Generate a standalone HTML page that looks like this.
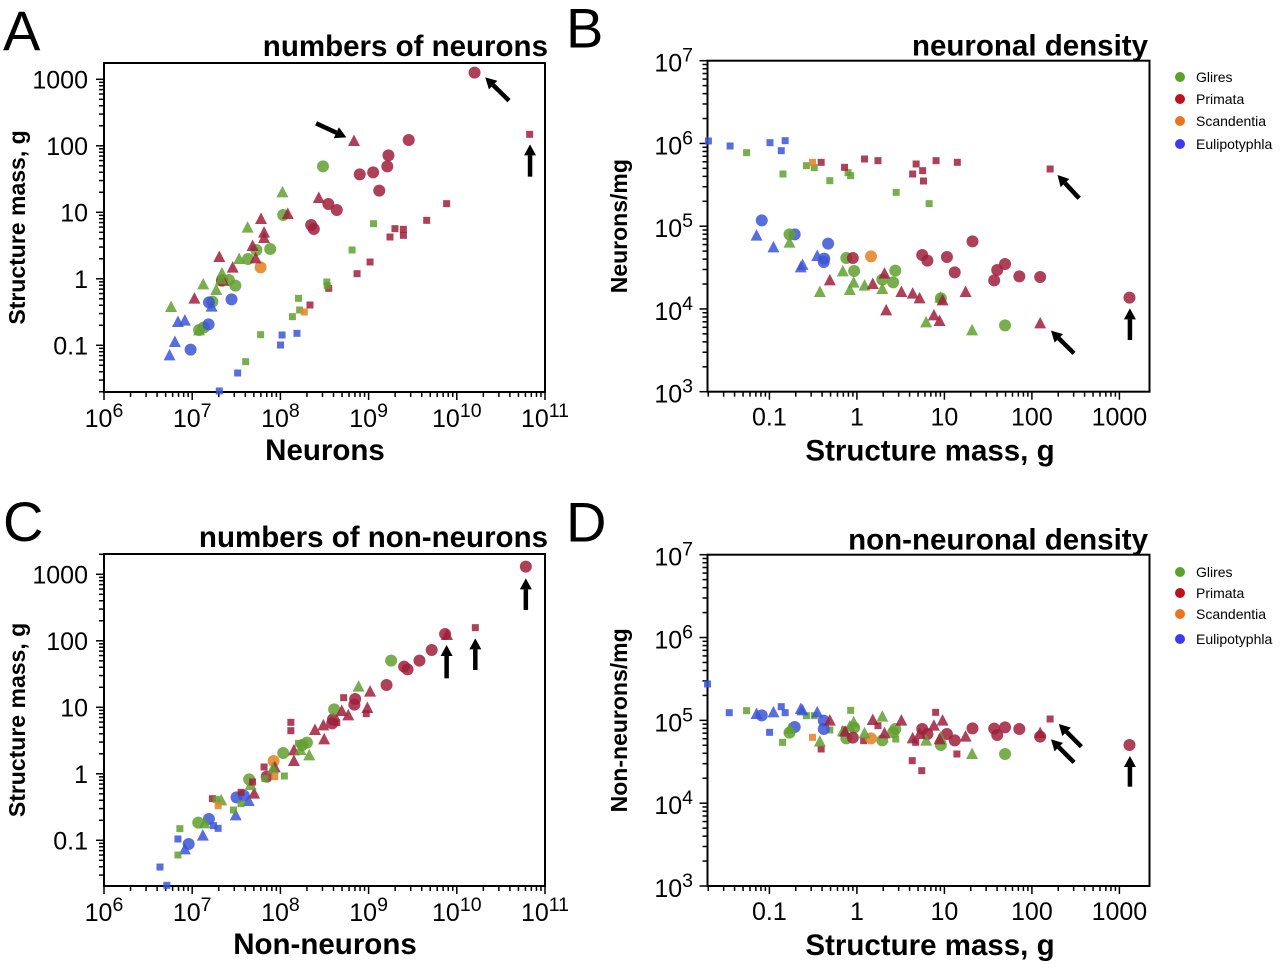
<!DOCTYPE html>
<html><head><meta charset="utf-8"><style>
body{margin:0;background:#fff;width:1280px;height:964px;overflow:hidden}
svg{display:block}
text{font-family:"Liberation Sans",Arial,sans-serif}
</style></head><body>
<svg id="s" width="1280" height="964" xmlns="http://www.w3.org/2000/svg"></svg>
<script>
const S=document.getElementById('s');const NS='http://www.w3.org/2000/svg';
function el(t,a,txt){const e=document.createElementNS(NS,t);for(const k in a)e.setAttribute(k,a[k]);if(txt!==undefined)e.textContent=txt;S.appendChild(e);return e;}
const COL={g:'rgba(98,160,48,0.85)',r:'rgba(160,30,60,0.85)',o:'rgba(228,135,45,0.9)',b:'rgba(60,85,215,0.85)'};
function pt(x,y,sh,c){
 if(sh=='c')el('circle',{cx:x,cy:y,r:6,fill:COL[c]});
 else if(sh=='s')el('rect',{x:x-3.5,y:y-3.5,width:7,height:7,fill:COL[c]});
 else el('polygon',{points:`${x},${y-6.5} ${x-6},${y+5} ${x+6},${y+5}`,fill:COL[c]});
}
function arrow(x1,y1,x2,y2){
 const dx=x2-x1,dy=y2-y1,L=Math.hypot(dx,dy),ux=dx/L,uy=dy/L,px=-uy,py=ux,h=11,w=6;
 const bx=x2-ux*h,by=y2-uy*h;
 el('line',{x1:x1,y1:y1,x2:bx,y2:by,stroke:'#000','stroke-width':4.5});
 el('polygon',{points:`${x2},${y2} ${bx+px*w},${by+py*w} ${bx-px*w},${by-py*w}`,fill:'#000'});
}
function text(x,y,s,sz,anc,bold){return el('text',{x:x,y:y,'font-size':sz,'text-anchor':anc||'start','font-weight':bold?'bold':'normal',fill:'#000'},s);}
function pow(x,y,b,e,sz,anc){const t=el('text',{x:x,y:y,'font-size':sz,'text-anchor':anc||'middle',fill:'#000'});
 const a=document.createElementNS(NS,'tspan');a.textContent=b;t.appendChild(a);
 const c=document.createElementNS(NS,'tspan');c.setAttribute('dy',-10);c.setAttribute('font-size',sz*0.78);c.textContent=e;t.appendChild(c);}
function box(l,t,r,b){el('rect',{x:l,y:t,width:r-l,height:b-t,fill:'none',stroke:'#000','stroke-width':2});}
function xticks(x0,dec,from,to,yb){for(let d=from;d<to;d++){for(let m=1;m<10;m++){const x=x0+(d-from)*dec+Math.log10(m)*dec;
 el('line',{x1:x,y1:yb,x2:x,y2:yb+(m==1?8:5),stroke:'#000','stroke-width':1.5});}}
 const x=x0+(to-from)*dec;el('line',{x1:x,y1:yb,x2:x,y2:yb+8,stroke:'#000','stroke-width':1.5});}
function yticks(xl,y0,dec,n,top,bot){for(let d=-1;d<n;d++){for(let m=1;m<10;m++){const y=y0-d*dec-Math.log10(m)*dec;
 if(y<top-0.5||y>bot+0.5)continue;el('line',{x1:xl,y1:y,x2:xl-(m==1?8:5),y2:y,stroke:'#000','stroke-width':1.5});}}}
function panelAC(top,bot,y1000,off,title,xlab,pts,arrs,letter){
 box(104,top,545,bot);
 xticks(104,88.2,6,11,bot);
 yticks(104,y1000+4*66.5,66.5,6,top,bot);
 ['0.1','1','10','100','1000'].forEach((s,i)=>text(88,y1000+(4-i)*66.5+9,s,25,'end'));
 for(let e=6;e<=11;e++)pow(104+(e-6)*88.2,bot+35,'10',e,25);
 text(325,bot+68,xlab,29.5,'middle',true);
 el('text',{x:25,y:(top+bot)/2,'font-size':23,'font-weight':'bold','text-anchor':'middle',transform:`rotate(-90 25 ${(top+bot)/2})`},'Structure mass, g');
 text(548,top-7,title,29.5,'end',true);
 text(3,top-13,letter,56,'start');
 pts.forEach(p=>pt(p[0]/2.613,p[1]/3+off,p[2],p[3]));
 arrs.forEach(a=>arrow(a[0]/2.613,a[1]/3+off,a[2]/2.613,a[3]/3+off));
}
function panelBD(top,bot,off,title,ylab,pts,arrs,letter,legy){
 box(707.5,top,1149.5,bot);
 const x0=681.9,dec=87.5;
 for(let d=0;d<5;d++)for(let m=1;m<10;m++){const x=x0+d*dec+Math.log10(m)*dec;if(x<707)continue;el('line',{x1:x,y1:bot,x2:x,y2:bot+(m==1?8:5),stroke:'#000','stroke-width':1.5});}
 el('line',{x1:x0+5*dec,y1:bot,x2:x0+5*dec,y2:bot+8,stroke:'#000','stroke-width':1.5});
 ['0.1','1','10','100','1000'].forEach((s,i)=>text(x0+(i+1)*dec,bot+34,s,25,'middle'));
 const d2=(bot-top)/4;
 for(let d=0;d<4;d++)for(let m=1;m<10;m++){const y=bot-d*d2-Math.log10(m)*d2;el('line',{x1:707.5,y1:y,x2:707.5-(m==1?8:5),y2:y,stroke:'#000','stroke-width':1.5});}
 el('line',{x1:707.5,y1:top,x2:699.5,y2:top,stroke:'#000','stroke-width':1.5});
 for(let e=3;e<=7;e++)pow(693,bot-(e-3)*d2+11,'10',e,25,'end');
 text(930,bot+69,'Structure mass, g',29.5,'middle',true);
 el('text',{x:627,y:(top+bot)/2,'font-size':23,'font-weight':'bold','text-anchor':'middle',transform:`rotate(-90 627 ${(top+bot)/2})`},ylab);
 text(1148,top-5,title,29.5,'end',true);
 text(566,top-13,letter,56,'start');
 const lg=[['Glires','#5aa02c'],['Primata','#c0101e'],['Scandentia','#e8761e'],['Eulipotyphla','#3a3af0']];
 lg.forEach((l,i)=>{el('circle',{cx:1180,cy:legy[i],r:5,fill:l[1]});text(1196,legy[i]+5,l[0],14,'start');});
 pts.forEach(p=>pt(p[0]/2.306+600,p[1]/3+off,p[2],p[3]));
 arrs.forEach(a=>arrow(a[0]/2.306+600,a[1]/3+off,a[2]/2.306+600,a[3]/3+off));
}
function mk(list,sh,c){return list.map(p=>[p[0],p[1],sh,c]);}
const A=[].concat(
mk([[1068,300],[1015,346],[1012,379],[975,397],[940,403],[991,452],[858,492],[880,510],[813,555],[820,567],[580,722],[1240,98]],'c','r'),
mk([[844,379],[740,525],[706,627],[670,630],[648,657],[598,720],[615,737],[555,785],[533,862],[520,870]],'c','g'),
mk([[681,682]],'c','o'),
mk([[546,787],[605,778],[545,853],[498,929]],'c','b'),
mk([[925,303],[833,474],[752,522],[682,537],[690,578],[690,594],[660,618],[668,655],[573,651],[608,683],[508,776],[583,722]],'t','r'),
mk([[738,457],[647,563],[625,657],[580,700],[565,750],[531,733],[447,801],[520,871],[578,718]],'t','g'),
mk([[465,846],[483,842],[457,906],[443,946],[553,800]],'t','b'),
mk([[1384,283],[1167,491],[1115,541],[1032,566],[1054,568],[1054,586],[1019,591],[967,666],[933,701],[859,745],[810,795]],'s','r'),
mk([[976,551],[920,630],[854,726],[855,737],[780,775],[783,810],[764,830],[681,884],[642,965]],'s','g'),
mk([[795,816]],'s','o'),
mk([[737,885],[733,915],[776,880],[621,999],[573,1053]],'s','b'));
panelAC(63,392,79.3,40,'numbers of neurons','Neurons',A,[[1330,182,1268,112],[826,250,905,292],[1385,410,1385,313]],'A');
const C=[].concat(
mk([[1374,110],[1163,312],[1128,360],[1096,392],[1056,410],[1065,418],[1010,465],[928,507],[926,524],[870,568],[868,580],[697,740]],'c','r'),
mk([[1022,392],[873,538],[802,638],[790,645],[740,669],[651,748],[518,878]],'c','g'),
mk([[715,693]],'c','o'),
mk([[618,802],[637,797],[546,867],[493,942]],'c','b'),
mk([[1168,315],[967,485],[960,534],[893,543],[910,556],[823,600],[845,586],[847,628],[768,661],[768,693],[664,791],[718,712]],'t','r'),
mk([[937,470],[808,676],[785,660],[713,716],[578,811],[535,880],[655,765]],'t','g'),
mk([[530,917],[483,958],[616,856],[650,813]],'t','b'),
mk([[1242,293],[898,503],[957,551],[880,578],[760,577],[760,602],[690,711],[555,806],[630,787],[660,756]],'s','r'),
mk([[780,640],[743,738],[692,746],[630,821],[610,840],[470,896],[465,975],[565,808]],'s','g'),
mk([[570,827],[718,740]],'s','o'),
mk([[465,927],[418,1011],[436,1066],[570,895],[558,887]],'s','b'));
panelAC(554,886,574.3,530,'numbers of non-neurons','Non-neurons',C,[[1374,240,1374,145],[1167,445,1167,345],[1242,420,1242,325]],'C');
const B=[].concat(
mk([[250,303],[300,318],[392,308],[427,302],[418,332]],'s','b'),
mk([[338,338],[422,402],[476,377],[494,383],[530,422],[572,398],[578,407],[683,457],[759,491]],'s','g'),
mk([[490,367]],'s','o'),
mk([[510,367],[564,382],[610,357],[641,362],[729,372],[744,392],[746,423],[721,402],[775,362],[824,367],[1038,387]],'s','r'),
mk([[373,541],[449,583],[526,611],[517,656],[516,666]],'c','b'),
mk([[437,583],[568,654],[586,693],[681,692],[676,727],[651,719],[786,775],[934,856]],'c','g'),
mk([[625,649]],'c','o'),
mk([[583,654],[743,645],[755,662],[800,651],[859,604],[818,697],[934,672],[916,690],[909,721],[967,709],[1015,711],[1221,773]],'c','r'),
mk([[361,587],[400,622],[463,682],[467,675],[501,648]],'t','b'),
mk([[437,608],[560,694],[576,750],[507,756],[610,737],[651,747],[585,728],[752,847],[858,871],[785,773]],'t','g'),
mk([[530,721],[656,701],[629,732],[695,756],[721,761],[737,775],[843,756],[660,811],[770,826],[783,843],[790,781],[1015,850]],'t','r'));
panelBD(60.7,391.7,40,'neuronal density','Neurons/mg',B,[[1105,475,1055,405],[1093,940,1040,872],[1222,900,1222,805]],'B',[77,99,121,144]);
const D=[].concat(
mk([[248,462],[298,548],[418,530],[427,548],[391,607]],'s','b'),
mk([[338,542],[476,557],[494,557],[578,541],[421,637],[530,600],[682,627]],'s','g'),
mk([[490,622]],'s','o'),
mk([[510,657],[564,600],[608,632],[641,587],[720,692],[742,722],[774,547],[823,672],[1038,567],[728,637]],'s','r'),
mk([[373,556],[449,591],[516,572],[516,597]],'c','b'),
mk([[437,608],[568,625],[586,593],[681,597],[676,607],[651,631],[786,645],[934,672]],'c','g'),
mk([[625,625]],'c','o'),
mk([[583,623],[743,597],[755,612],[800,612],[859,595],[818,631],[909,596],[916,615],[934,592],[967,597],[1015,620],[1221,645]],'c','r'),
mk([[361,552],[400,547],[463,537],[467,541],[501,547]],'t','b'),
mk([[437,597],[560,604],[576,590],[507,635],[610,610],[651,560],[585,577],[752,632],[858,672],[785,622]],'t','g'),
mk([[530,572],[656,610],[629,570],[695,572],[721,625],[737,612],[843,620],[770,587],[783,628],[790,572],[1015,609],[565,605]],'t','r'));
panelBD(554.7,886,530,'non-neuronal density','Non-neurons/mg',D,[[1110,650,1058,582],[1093,697,1040,628],[1222,770,1222,678]],'D',[572,593,614,639]);
</script>
</body></html>
